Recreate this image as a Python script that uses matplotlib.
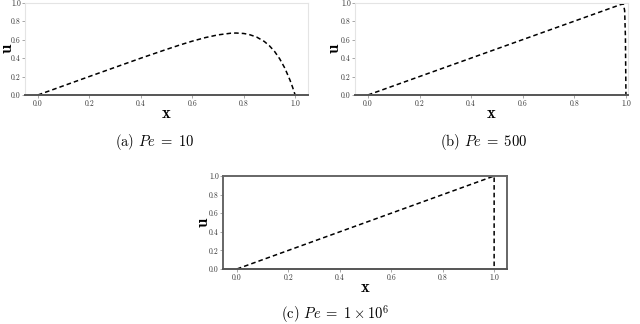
import matplotlib
matplotlib.use('Agg')
import matplotlib.pyplot as plt

plt.rcParams['mathtext.fontset'] = 'cm'
plt.rcParams['font.family'] = ['cmr10', 'DejaVu Serif']
plt.rcParams['axes.formatter.use_mathtext'] = True

# valores
x_pe10 = [0.0, 0.1, 0.2, 0.3, 0.4, 0.5, 0.55, 0.6, 0.65, 0.7, 0.75, 0.77,
          0.8, 0.82, 0.85, 0.88, 0.9, 0.92, 0.94, 0.96, 0.98, 0.99, 1.0]
u_pe10 = [0.0, 0.100, 0.200, 0.299, 0.398, 0.493, 0.539, 0.582, 0.620, 0.650,
          0.668, 0.670, 0.665, 0.655, 0.627, 0.579, 0.532, 0.471, 0.391,
          0.290, 0.161, 0.085, 0.0]

x_pe500 = [0.0, 0.98, 0.99, 0.995, 0.998, 1.0]
u_pe500 = [0.0, 0.978, 0.983, 0.913, 0.630, 0.0]

x_pe1e6 = [0.0, 1.0, 1.0]
u_pe1e6 = [0.0, 1.0, 0.0]

yticks = [0.0, 0.2, 0.4, 0.6, 0.8, 1.0]
xticks = [0.0, 0.2, 0.4, 0.6, 0.8, 1.0]

legendas = [r'(a) $Pe\;=\;10$', r'(b) $Pe\;=\;500$', r'(c) $Pe\;=\;1\times10^6$']

W, H = 640, 324
fig = plt.figure(figsize=(W / 100, H / 100), dpi=100)


def eixo(l, r, t, b):
    return fig.add_axes([l / W, 1 - b / H, (r - l) / W, (b - t) / H])


def estilo(ax, xlim, moldura_escura, l, r, u_x):
    ax.set_xlim(*xlim)
    ax.set_ylim(0, 1)
    ax.set_xticks(xticks)
    ax.set_yticks(yticks)
    ax.set_xticklabels([f'{v:.1f}' for v in xticks])
    ax.set_yticklabels([f'{v:.1f}' for v in yticks])
    ax.tick_params(labelsize=5.5, length=2, width=0.6, colors='#999999',
                   labelcolor='#333333', pad=1)
    for lado in ['top', 'left', 'right']:
        if moldura_escura:
            ax.spines[lado].set_color('#666666')
            ax.spines[lado].set_linewidth(1.4)
        else:
            ax.spines[lado].set_color('#e4e4e4')
            ax.spines[lado].set_linewidth(0.8)
    ax.spines['bottom'].set_color('#555555')
    ax.spines['bottom'].set_linewidth(1.4)
    ax.set_xlabel('x', fontfamily='cmb10', fontsize=12, labelpad=-1)
    ax.set_ylabel('u', fontfamily='cmb10', fontsize=12)
    # o rótulo fica à esquerda do ponto de ancoragem
    ax.yaxis.set_label_coords((u_x + 9 - l) / (r - l), 0.5)


estilo_linha = dict(color='black', linewidth=1.1, linestyle=(0, (3, 2)))

# (a)
ax1 = eixo(25, 308, 2.5, 95)
ax1.plot(x_pe10, u_pe10, **estilo_linha)
estilo(ax1, (-0.05, 1.05), False, 25, 308, 6)

# (b)
ax2 = eixo(355, 628, 2.5, 95)
ax2.plot(x_pe500, u_pe500, **estilo_linha)
estilo(ax2, (-0.05, 1.008), False, 355, 628, 333)

# (c)
ax3 = eixo(223, 507, 176, 269)
ax3.plot(x_pe1e6, u_pe1e6, **estilo_linha)
estilo(ax3, (-0.054, 1.05), True, 223, 507, 202)

fig.text(155 / W, 1 - 142 / H, legendas[0], ha='center', va='center', fontsize=10.5)
fig.text(484 / W, 1 - 142 / H, legendas[1], ha='center', va='center', fontsize=10.5)
fig.text(335 / W, 1 - 314 / H, legendas[2], ha='center', va='center', fontsize=10.5)

fig.savefig('out.png', dpi=100)
